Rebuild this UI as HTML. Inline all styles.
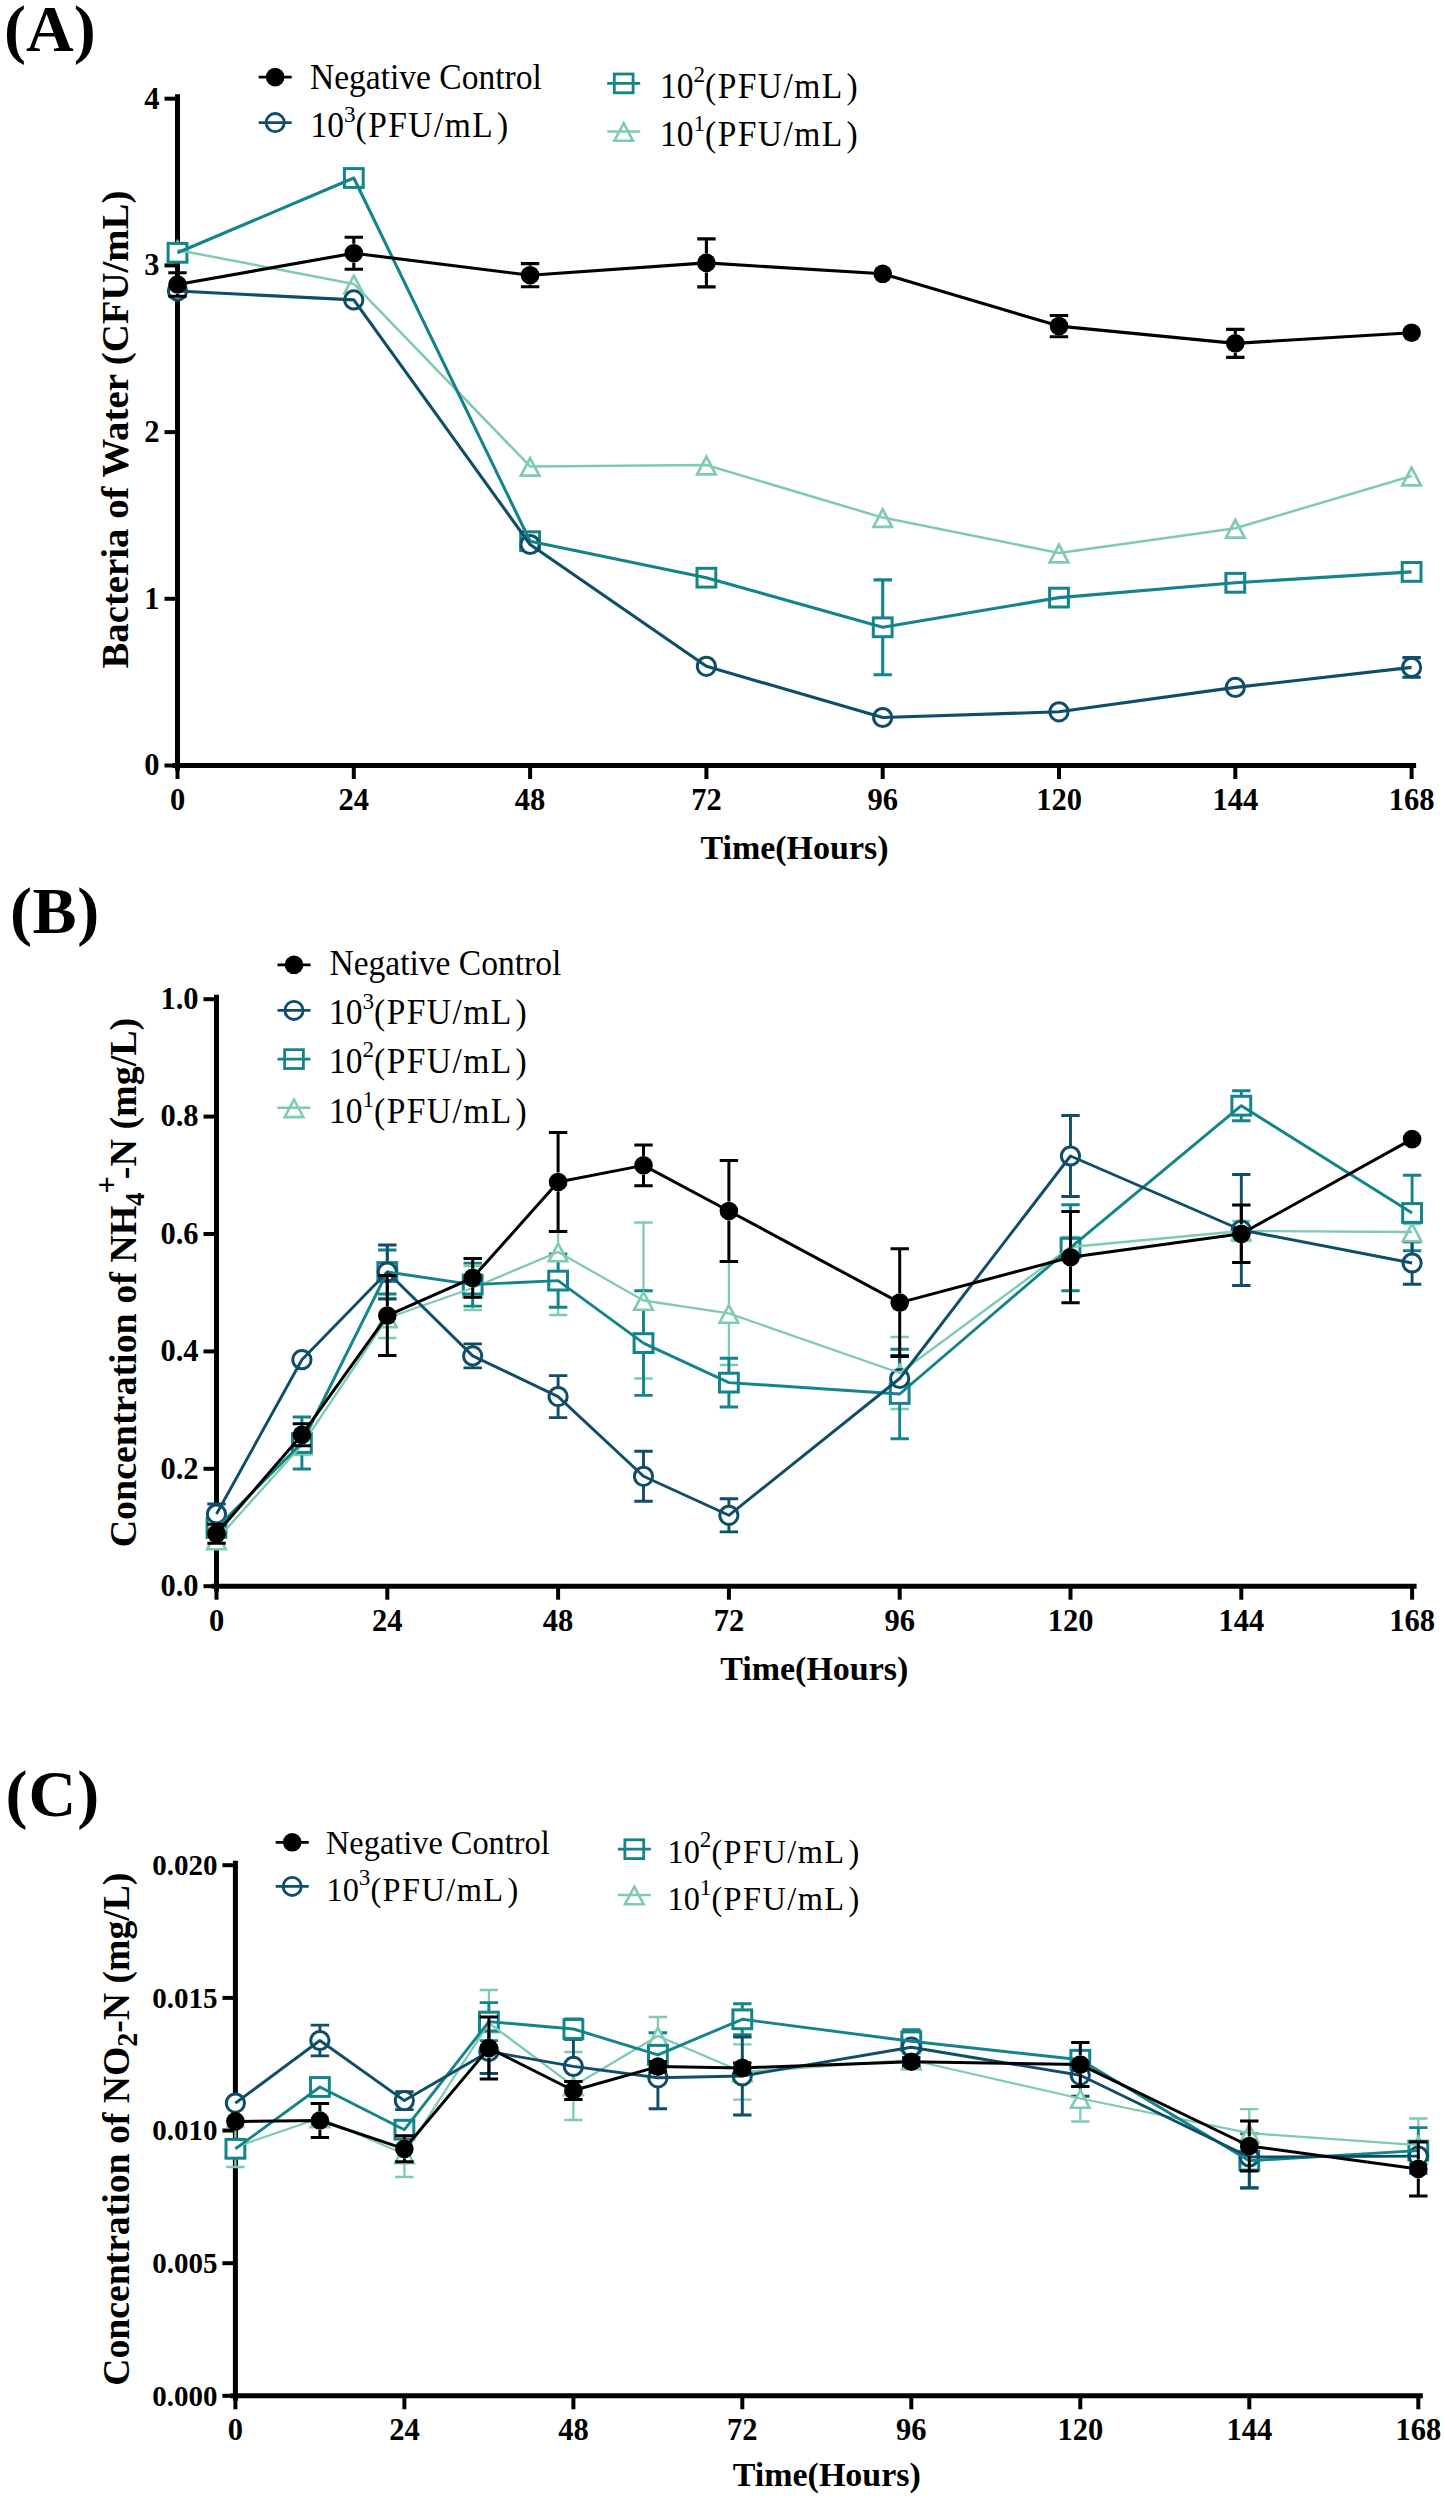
<!DOCTYPE html><html><head><meta charset="utf-8"><style>html,body{margin:0;padding:0;background:#fff;width:1445px;height:2500px;overflow:hidden}svg{display:block}.tk{font-family:'Liberation Serif', serif;font-weight:bold;font-size:30.5px}.lg{font-family:'Liberation Serif', serif;font-size:34.8px}.lgc{font-family:'Liberation Serif', serif;font-size:33.6px}.al{font-family:'Liberation Serif', serif;font-weight:bold;font-size:38.8px}.xl{font-family:'Liberation Serif', serif;font-weight:bold;font-size:34px}.pl{font-family:'Liberation Serif', serif;font-weight:bold;font-size:66px}</style></head><body>
<svg width="1445" height="2500" viewBox="0 0 1445 2500">
<text x="4" y="50.7" class="pl">(A)</text>
<path d="M177.5 96.7V768M175 765.5H1413.6" stroke="#000" stroke-width="5" fill="none" stroke-linecap="square"/>
<path d="M164.5 765.5H177.5" stroke="#000" stroke-width="4"/>
<text x="159.5" y="775.3" text-anchor="end" class="tk">0</text>
<path d="M164.5 598.8H177.5" stroke="#000" stroke-width="4"/>
<text x="159.5" y="608.6" text-anchor="end" class="tk">1</text>
<path d="M164.5 432.1H177.5" stroke="#000" stroke-width="4"/>
<text x="159.5" y="441.9" text-anchor="end" class="tk">2</text>
<path d="M164.5 265.4H177.5" stroke="#000" stroke-width="4"/>
<text x="159.5" y="275.2" text-anchor="end" class="tk">3</text>
<path d="M164.5 98.7H177.5" stroke="#000" stroke-width="4"/>
<text x="159.5" y="108.5" text-anchor="end" class="tk">4</text>
<path d="M177.5 765.5V779" stroke="#000" stroke-width="4"/>
<text x="177.5" y="809.5" text-anchor="middle" class="tk">0</text>
<path d="M353.8 765.5V779" stroke="#000" stroke-width="4"/>
<text x="353.8" y="809.5" text-anchor="middle" class="tk">24</text>
<path d="M530.1 765.5V779" stroke="#000" stroke-width="4"/>
<text x="530.1" y="809.5" text-anchor="middle" class="tk">48</text>
<path d="M706.4 765.5V779" stroke="#000" stroke-width="4"/>
<text x="706.4" y="809.5" text-anchor="middle" class="tk">72</text>
<path d="M882.7 765.5V779" stroke="#000" stroke-width="4"/>
<text x="882.7" y="809.5" text-anchor="middle" class="tk">96</text>
<path d="M1059 765.5V779" stroke="#000" stroke-width="4"/>
<text x="1059" y="809.5" text-anchor="middle" class="tk">120</text>
<path d="M1235.3 765.5V779" stroke="#000" stroke-width="4"/>
<text x="1235.3" y="809.5" text-anchor="middle" class="tk">144</text>
<path d="M1411.6 765.5V779" stroke="#000" stroke-width="4"/>
<text x="1411.6" y="809.5" text-anchor="middle" class="tk">168</text>
<text transform="translate(128,429.6) rotate(-90)" text-anchor="middle" class="al">Bacteria of Water (CFU/mL)</text>
<text x="794.5" y="858.9" text-anchor="middle" class="xl">Time(Hours)</text>

<path d="M882.7 579.9V617.8M882.7 636.8V674.7M873.5 579.9H891.9M873.5 674.7H891.9" stroke="#12848a" stroke-width="3.1" fill="none"/>
<path d="M1402.4 657.6H1420.8M1402.4 677.2H1420.8" stroke="#0f4e69" stroke-width="3.1" fill="none"/>
<path d="M177.5 241.7L186.8 259.3L168.2 259.3Z" fill="#fff" stroke="#7ecbb2" stroke-width="2.7" stroke-linejoin="miter"/>
<path d="M353.8 275.6L363.1 293.2L344.5 293.2Z" fill="#fff" stroke="#7ecbb2" stroke-width="2.7" stroke-linejoin="miter"/>
<path d="M530.1 458.1L539.4 475.7L520.8 475.7Z" fill="#fff" stroke="#7ecbb2" stroke-width="2.7" stroke-linejoin="miter"/>
<path d="M706.4 456.7L715.7 474.3L697.1 474.3Z" fill="#fff" stroke="#7ecbb2" stroke-width="2.7" stroke-linejoin="miter"/>
<path d="M882.7 509.3L892 526.9L873.4 526.9Z" fill="#fff" stroke="#7ecbb2" stroke-width="2.7" stroke-linejoin="miter"/>
<path d="M1059 544.7L1068.3 562.3L1049.7 562.3Z" fill="#fff" stroke="#7ecbb2" stroke-width="2.7" stroke-linejoin="miter"/>
<path d="M1235.3 520L1244.6 537.6L1226 537.6Z" fill="#fff" stroke="#7ecbb2" stroke-width="2.7" stroke-linejoin="miter"/>
<path d="M1411.6 467.7L1420.9 485.3L1402.3 485.3Z" fill="#fff" stroke="#7ecbb2" stroke-width="2.7" stroke-linejoin="miter"/>
<rect x="168.1" y="243.4" width="18.8" height="18.8" fill="#fff" stroke="#12848a" stroke-width="3"/>
<rect x="344.4" y="168.6" width="18.8" height="18.8" fill="#fff" stroke="#12848a" stroke-width="3"/>
<rect x="520.7" y="531.8" width="18.8" height="18.8" fill="#fff" stroke="#12848a" stroke-width="3"/>
<rect x="697" y="568.3" width="18.8" height="18.8" fill="#fff" stroke="#12848a" stroke-width="3"/>
<rect x="873.3" y="617.9" width="18.8" height="18.8" fill="#fff" stroke="#12848a" stroke-width="3"/>
<rect x="1049.6" y="588.2" width="18.8" height="18.8" fill="#fff" stroke="#12848a" stroke-width="3"/>
<rect x="1225.9" y="573.4" width="18.8" height="18.8" fill="#fff" stroke="#12848a" stroke-width="3"/>
<rect x="1402.2" y="562.5" width="18.8" height="18.8" fill="#fff" stroke="#12848a" stroke-width="3"/>
<circle cx="177.5" cy="291" r="9.1" fill="#fff" stroke="#0f4e69" stroke-width="3"/>
<circle cx="353.8" cy="299.9" r="9.1" fill="#fff" stroke="#0f4e69" stroke-width="3"/>
<circle cx="530.1" cy="544.5" r="9.1" fill="#fff" stroke="#0f4e69" stroke-width="3"/>
<circle cx="706.4" cy="666.3" r="9.1" fill="#fff" stroke="#0f4e69" stroke-width="3"/>
<circle cx="882.7" cy="717.5" r="9.1" fill="#fff" stroke="#0f4e69" stroke-width="3"/>
<circle cx="1059" cy="711.8" r="9.1" fill="#fff" stroke="#0f4e69" stroke-width="3"/>
<circle cx="1235.3" cy="687.4" r="9.1" fill="#fff" stroke="#0f4e69" stroke-width="3"/>
<circle cx="1411.6" cy="667.4" r="9.1" fill="#fff" stroke="#0f4e69" stroke-width="3"/>
<path d="M177.5 250 L353.8 283.9 L530.1 466.4 L706.4 465 L882.7 517.6 L1059 553 L1235.3 528.3 L1411.6 476" fill="none" stroke="#7ecbb2" stroke-width="2.5" stroke-linejoin="round"/>
<path d="M177.5 252.8 L353.8 178 L530.1 541.2 L706.4 577.7 L882.7 627.3 L1059 597.6 L1235.3 582.8 L1411.6 571.9" fill="none" stroke="#12848a" stroke-width="3.1" stroke-linejoin="round"/>
<path d="M177.5 291 L353.8 299.9 L530.1 544.5 L706.4 666.3 L882.7 717.5 L1059 711.8 L1235.3 687.4 L1411.6 667.4" fill="none" stroke="#0f4e69" stroke-width="3.1" stroke-linejoin="round"/>
<path d="M177.5 284.5 L353.8 253.2 L530.1 275.2 L706.4 262.9 L882.7 273.8 L1059 326.1 L1235.3 343.4 L1411.6 332.7" fill="none" stroke="#000000" stroke-width="3.1" stroke-linejoin="round"/>
<path d="M177.5 272.7V275M177.5 294V296.3M168.3 272.7H186.7M168.3 296.3H186.7" stroke="#000000" stroke-width="3.1" fill="none"/>
<path d="M353.8 237.2V243.7M353.8 262.7V269.2M344.6 237.2H363M344.6 269.2H363" stroke="#000000" stroke-width="3.1" fill="none"/>
<path d="M530.1 263.6V265.7M530.1 284.7V286.8M520.9 263.6H539.3M520.9 286.8H539.3" stroke="#000000" stroke-width="3.1" fill="none"/>
<path d="M706.4 238.9V253.4M706.4 272.4V286.9M697.2 238.9H715.6M697.2 286.9H715.6" stroke="#000000" stroke-width="3.1" fill="none"/>
<path d="M1059 315.5V316.6M1059 335.6V336.7M1049.8 315.5H1068.2M1049.8 336.7H1068.2" stroke="#000000" stroke-width="3.1" fill="none"/>
<path d="M1235.3 329.4V333.9M1235.3 352.9V357.4M1226.1 329.4H1244.5M1226.1 357.4H1244.5" stroke="#000000" stroke-width="3.1" fill="none"/>
<circle cx="177.5" cy="284.5" r="9.3" fill="#000000"/>
<circle cx="353.8" cy="253.2" r="9.3" fill="#000000"/>
<circle cx="530.1" cy="275.2" r="9.3" fill="#000000"/>
<circle cx="706.4" cy="262.9" r="9.3" fill="#000000"/>
<circle cx="882.7" cy="273.8" r="9.3" fill="#000000"/>
<circle cx="1059" cy="326.1" r="9.3" fill="#000000"/>
<circle cx="1235.3" cy="343.4" r="9.3" fill="#000000"/>
<circle cx="1411.6" cy="332.7" r="9.3" fill="#000000"/>
<path d="M258.7 77.1H291.7" stroke="#000000" stroke-width="2.8"/>
<circle cx="275.2" cy="77.1" r="9.3" fill="#000000"/>
<g transform="translate(310,88.7) scale(0.963,1)"><text x="0" y="0" class="lg">Negative Control</text></g>
<path d="M258.7 122.6H291.7" stroke="#0f4e69" stroke-width="2.8"/>
<circle cx="275.2" cy="122.6" r="9.1" fill="none" stroke="#0f4e69" stroke-width="2.8"/>
<g transform="translate(310.5,137) scale(0.963,1)"><text x="0" y="0" class="lg">10<tspan dy="-15.5" font-size="24">3</tspan><tspan dy="15.5" letter-spacing="1.5">(PFU/mL</tspan><tspan dx="3">)</tspan></text></g>
<path d="M607.2 83.4H640.2" stroke="#12848a" stroke-width="2.8"/>
<rect x="614.3" y="74" width="18.8" height="18.8" fill="none" stroke="#12848a" stroke-width="2.8"/>
<g transform="translate(660,97.8) scale(0.963,1)"><text x="0" y="0" class="lg">10<tspan dy="-15.5" font-size="24">2</tspan><tspan dy="15.5" letter-spacing="1.5">(PFU/mL</tspan><tspan dx="3">)</tspan></text></g>
<path d="M607.2 131.5H640.2" stroke="#7ecbb2" stroke-width="2.6"/>
<path d="M623.7 123.2L633 140.8L614.4 140.8Z" fill="none" stroke="#7ecbb2" stroke-width="2.6" stroke-linejoin="miter"/>
<g transform="translate(660,146.2) scale(0.963,1)"><text x="0" y="0" class="lg">10<tspan dy="-15.5" font-size="24">1</tspan><tspan dy="15.5" letter-spacing="1.5">(PFU/mL</tspan><tspan dx="3">)</tspan></text></g>
<text x="10" y="933.1" class="pl" letter-spacing="0.6">(B)</text>
<path d="M216.5 997.2V1588.7M214 1586.2H1414.1" stroke="#000" stroke-width="5" fill="none" stroke-linecap="square"/>
<path d="M203.5 1586.2H216.5" stroke="#000" stroke-width="4"/>
<text x="198.5" y="1596" text-anchor="end" class="tk">0.0</text>
<path d="M203.5 1468.8H216.5" stroke="#000" stroke-width="4"/>
<text x="198.5" y="1478.6" text-anchor="end" class="tk">0.2</text>
<path d="M203.5 1351.4H216.5" stroke="#000" stroke-width="4"/>
<text x="198.5" y="1361.2" text-anchor="end" class="tk">0.4</text>
<path d="M203.5 1234H216.5" stroke="#000" stroke-width="4"/>
<text x="198.5" y="1243.8" text-anchor="end" class="tk">0.6</text>
<path d="M203.5 1116.6H216.5" stroke="#000" stroke-width="4"/>
<text x="198.5" y="1126.4" text-anchor="end" class="tk">0.8</text>
<path d="M203.5 999.2H216.5" stroke="#000" stroke-width="4"/>
<text x="198.5" y="1009" text-anchor="end" class="tk">1.0</text>
<path d="M216.5 1586.2V1599.7" stroke="#000" stroke-width="4"/>
<text x="216.5" y="1631.2" text-anchor="middle" class="tk">0</text>
<path d="M387.3 1586.2V1599.7" stroke="#000" stroke-width="4"/>
<text x="387.3" y="1631.2" text-anchor="middle" class="tk">24</text>
<path d="M558.1 1586.2V1599.7" stroke="#000" stroke-width="4"/>
<text x="558.1" y="1631.2" text-anchor="middle" class="tk">48</text>
<path d="M728.9 1586.2V1599.7" stroke="#000" stroke-width="4"/>
<text x="728.9" y="1631.2" text-anchor="middle" class="tk">72</text>
<path d="M899.7 1586.2V1599.7" stroke="#000" stroke-width="4"/>
<text x="899.7" y="1631.2" text-anchor="middle" class="tk">96</text>
<path d="M1070.5 1586.2V1599.7" stroke="#000" stroke-width="4"/>
<text x="1070.5" y="1631.2" text-anchor="middle" class="tk">120</text>
<path d="M1241.3 1586.2V1599.7" stroke="#000" stroke-width="4"/>
<text x="1241.3" y="1631.2" text-anchor="middle" class="tk">144</text>
<path d="M1412.1 1586.2V1599.7" stroke="#000" stroke-width="4"/>
<text x="1412.1" y="1631.2" text-anchor="middle" class="tk">168</text>
<g transform="translate(136,1282.6) rotate(-90) scale(0.979,1)"><text x="0" y="0" text-anchor="middle" class="al">Concentration of NH<tspan font-size="27" dy="8">4</tspan><tspan font-size="31" dy="-27.5" dx="-1">+</tspan><tspan dy="19.5" dx="-3">-N (mg/L)</tspan></text></g>
<text x="814.3" y="1679.7" text-anchor="middle" class="xl">Time(Hours)</text>
<path d="M207.3 1532H225.7M207.3 1548H225.7" stroke="#7ecbb2" stroke-width="2.3" fill="none"/>
<path d="M292.7 1435H311.1M292.7 1455H311.1" stroke="#7ecbb2" stroke-width="2.3" fill="none"/>
<path d="M387.3 1298V1308.5M387.3 1327.5V1338M378.1 1298H396.5M378.1 1338H396.5" stroke="#7ecbb2" stroke-width="2.3" fill="none"/>
<path d="M472.7 1266V1278.5M472.7 1297.5V1310M463.5 1266H481.9M463.5 1310H481.9" stroke="#7ecbb2" stroke-width="2.3" fill="none"/>
<path d="M558.1 1185V1242.5M558.1 1261.5V1315M548.9 1185H567.3M548.9 1315H567.3" stroke="#7ecbb2" stroke-width="2.3" fill="none"/>
<path d="M643.5 1222.5V1291M643.5 1310V1378.5M634.3 1222.5H652.7M634.3 1378.5H652.7" stroke="#7ecbb2" stroke-width="2.3" fill="none"/>
<path d="M728.9 1261.8V1303.9M728.9 1322.9V1365M719.7 1261.8H738.1M719.7 1365H738.1" stroke="#7ecbb2" stroke-width="2.3" fill="none"/>
<path d="M899.7 1337V1363.5M899.7 1382.5V1409M890.5 1337H908.9M890.5 1409H908.9" stroke="#7ecbb2" stroke-width="2.3" fill="none"/>
<path d="M1061.3 1237H1079.7M1061.3 1257H1079.7" stroke="#7ecbb2" stroke-width="2.3" fill="none"/>
<path d="M1232.1 1221H1250.5M1232.1 1241H1250.5" stroke="#7ecbb2" stroke-width="2.3" fill="none"/>
<path d="M1402.9 1224H1421.3M1402.9 1240H1421.3" stroke="#7ecbb2" stroke-width="2.3" fill="none"/>
<path d="M207.3 1520H225.7M207.3 1536H225.7" stroke="#12848a" stroke-width="2.9" fill="none"/>
<path d="M301.9 1417V1433.5M301.9 1452.5V1469M292.7 1417H311.1M292.7 1469H311.1" stroke="#12848a" stroke-width="2.9" fill="none"/>
<path d="M387.3 1250V1262.5M387.3 1281.5V1294M378.1 1250H396.5M378.1 1294H396.5" stroke="#12848a" stroke-width="2.9" fill="none"/>
<path d="M472.7 1263.1V1275.1M472.7 1294.1V1306.1M463.5 1263.1H481.9M463.5 1306.1H481.9" stroke="#12848a" stroke-width="2.9" fill="none"/>
<path d="M558.1 1254V1271.1M558.1 1290.1V1307.2M548.9 1254H567.3M548.9 1307.2H567.3" stroke="#12848a" stroke-width="2.9" fill="none"/>
<path d="M643.5 1290.8V1333.6M643.5 1352.6V1395.4M634.3 1290.8H652.7M634.3 1395.4H652.7" stroke="#12848a" stroke-width="2.9" fill="none"/>
<path d="M728.9 1358.2V1373.1M728.9 1392.1V1407M719.7 1358.2H738.1M719.7 1407H738.1" stroke="#12848a" stroke-width="2.9" fill="none"/>
<path d="M899.7 1349.3V1384.5M899.7 1403.5V1438.7M890.5 1349.3H908.9M890.5 1438.7H908.9" stroke="#12848a" stroke-width="2.9" fill="none"/>
<path d="M1070.5 1204.7V1238.2M1070.5 1257.2V1290.7M1061.3 1204.7H1079.7M1061.3 1290.7H1079.7" stroke="#12848a" stroke-width="2.9" fill="none"/>
<path d="M1241.3 1090.7V1096.2M1241.3 1115.2V1120.7M1232.1 1090.7H1250.5M1232.1 1120.7H1250.5" stroke="#12848a" stroke-width="2.9" fill="none"/>
<path d="M1412.1 1175.2V1203.5M1412.1 1222.5V1250.8M1402.9 1175.2H1421.3M1402.9 1250.8H1421.3" stroke="#12848a" stroke-width="2.9" fill="none"/>
<path d="M207.3 1504H225.7M207.3 1524H225.7" stroke="#0f4e69" stroke-width="2.9" fill="none"/>
<path d="M387.3 1245V1262.5M387.3 1281.5V1299M378.1 1245H396.5M378.1 1299H396.5" stroke="#0f4e69" stroke-width="2.9" fill="none"/>
<path d="M472.7 1343.9V1346.4M472.7 1365.4V1367.9M463.5 1343.9H481.9M463.5 1367.9H481.9" stroke="#0f4e69" stroke-width="2.9" fill="none"/>
<path d="M558.1 1375.6V1387.1M558.1 1406.1V1417.6M548.9 1375.6H567.3M548.9 1417.6H567.3" stroke="#0f4e69" stroke-width="2.9" fill="none"/>
<path d="M643.5 1451.3V1466.8M643.5 1485.8V1501.3M634.3 1451.3H652.7M634.3 1501.3H652.7" stroke="#0f4e69" stroke-width="2.9" fill="none"/>
<path d="M728.9 1498.7V1505.8M728.9 1524.8V1531.9M719.7 1498.7H738.1M719.7 1531.9H738.1" stroke="#0f4e69" stroke-width="2.9" fill="none"/>
<path d="M899.7 1355.5V1369M899.7 1388V1401.5M890.5 1355.5H908.9M890.5 1401.5H908.9" stroke="#0f4e69" stroke-width="2.9" fill="none"/>
<path d="M1070.5 1115.5V1146.5M1070.5 1165.5V1196.5M1061.3 1115.5H1079.7M1061.3 1196.5H1079.7" stroke="#0f4e69" stroke-width="2.9" fill="none"/>
<path d="M1241.3 1174.5V1220.5M1241.3 1239.5V1285.5M1232.1 1174.5H1250.5M1232.1 1285.5H1250.5" stroke="#0f4e69" stroke-width="2.9" fill="none"/>
<path d="M1412.1 1241.7V1253.5M1412.1 1272.5V1284.3M1402.9 1241.7H1421.3M1402.9 1284.3H1421.3" stroke="#0f4e69" stroke-width="2.9" fill="none"/>
<path d="M216.5 1531.7L225.8 1549.3L207.2 1549.3Z" fill="#fff" stroke="#7ecbb2" stroke-width="2.6" stroke-linejoin="miter"/>
<path d="M301.9 1436.7L311.2 1454.3L292.6 1454.3Z" fill="#fff" stroke="#7ecbb2" stroke-width="2.6" stroke-linejoin="miter"/>
<path d="M387.3 1309.7L396.6 1327.3L378 1327.3Z" fill="#fff" stroke="#7ecbb2" stroke-width="2.6" stroke-linejoin="miter"/>
<path d="M472.7 1279.7L482 1297.3L463.4 1297.3Z" fill="#fff" stroke="#7ecbb2" stroke-width="2.6" stroke-linejoin="miter"/>
<path d="M558.1 1243.7L567.4 1261.3L548.8 1261.3Z" fill="#fff" stroke="#7ecbb2" stroke-width="2.6" stroke-linejoin="miter"/>
<path d="M643.5 1292.2L652.8 1309.8L634.2 1309.8Z" fill="#fff" stroke="#7ecbb2" stroke-width="2.6" stroke-linejoin="miter"/>
<path d="M728.9 1305.1L738.2 1322.7L719.6 1322.7Z" fill="#fff" stroke="#7ecbb2" stroke-width="2.6" stroke-linejoin="miter"/>
<path d="M899.7 1364.7L909 1382.3L890.4 1382.3Z" fill="#fff" stroke="#7ecbb2" stroke-width="2.6" stroke-linejoin="miter"/>
<path d="M1070.5 1238.7L1079.8 1256.3L1061.2 1256.3Z" fill="#fff" stroke="#7ecbb2" stroke-width="2.6" stroke-linejoin="miter"/>
<path d="M1241.3 1222.7L1250.6 1240.3L1232 1240.3Z" fill="#fff" stroke="#7ecbb2" stroke-width="2.6" stroke-linejoin="miter"/>
<path d="M1412.1 1223.7L1421.4 1241.3L1402.8 1241.3Z" fill="#fff" stroke="#7ecbb2" stroke-width="2.6" stroke-linejoin="miter"/>
<rect x="207.1" y="1518.6" width="18.8" height="18.8" fill="#fff" stroke="#12848a" stroke-width="3"/>
<rect x="292.5" y="1433.6" width="18.8" height="18.8" fill="#fff" stroke="#12848a" stroke-width="3"/>
<rect x="377.9" y="1262.6" width="18.8" height="18.8" fill="#fff" stroke="#12848a" stroke-width="3"/>
<rect x="463.3" y="1275.2" width="18.8" height="18.8" fill="#fff" stroke="#12848a" stroke-width="3"/>
<rect x="548.7" y="1271.2" width="18.8" height="18.8" fill="#fff" stroke="#12848a" stroke-width="3"/>
<rect x="634.1" y="1333.7" width="18.8" height="18.8" fill="#fff" stroke="#12848a" stroke-width="3"/>
<rect x="719.5" y="1373.2" width="18.8" height="18.8" fill="#fff" stroke="#12848a" stroke-width="3"/>
<rect x="890.3" y="1384.6" width="18.8" height="18.8" fill="#fff" stroke="#12848a" stroke-width="3"/>
<rect x="1061.1" y="1238.3" width="18.8" height="18.8" fill="#fff" stroke="#12848a" stroke-width="3"/>
<rect x="1231.9" y="1096.3" width="18.8" height="18.8" fill="#fff" stroke="#12848a" stroke-width="3"/>
<rect x="1402.7" y="1203.6" width="18.8" height="18.8" fill="#fff" stroke="#12848a" stroke-width="3"/>
<circle cx="216.5" cy="1514" r="9.1" fill="#fff" stroke="#0f4e69" stroke-width="3"/>
<circle cx="301.9" cy="1359.7" r="9.1" fill="#fff" stroke="#0f4e69" stroke-width="3"/>
<circle cx="387.3" cy="1272" r="9.1" fill="#fff" stroke="#0f4e69" stroke-width="3"/>
<circle cx="472.7" cy="1355.9" r="9.1" fill="#fff" stroke="#0f4e69" stroke-width="3"/>
<circle cx="558.1" cy="1396.6" r="9.1" fill="#fff" stroke="#0f4e69" stroke-width="3"/>
<circle cx="643.5" cy="1476.3" r="9.1" fill="#fff" stroke="#0f4e69" stroke-width="3"/>
<circle cx="728.9" cy="1515.3" r="9.1" fill="#fff" stroke="#0f4e69" stroke-width="3"/>
<circle cx="899.7" cy="1378.5" r="9.1" fill="#fff" stroke="#0f4e69" stroke-width="3"/>
<circle cx="1070.5" cy="1156" r="9.1" fill="#fff" stroke="#0f4e69" stroke-width="3"/>
<circle cx="1241.3" cy="1230" r="9.1" fill="#fff" stroke="#0f4e69" stroke-width="3"/>
<circle cx="1412.1" cy="1263" r="9.1" fill="#fff" stroke="#0f4e69" stroke-width="3"/>
<path d="M216.5 1540 L301.9 1445 L387.3 1318 L472.7 1288 L558.1 1252 L643.5 1300.5 L728.9 1313.4 L899.7 1373 L1070.5 1247 L1241.3 1231 L1412.1 1232" fill="none" stroke="#7ecbb2" stroke-width="2.3" stroke-linejoin="round"/>
<path d="M216.5 1528 L301.9 1443 L387.3 1272 L472.7 1284.6 L558.1 1280.6 L643.5 1343.1 L728.9 1382.6 L899.7 1394 L1070.5 1247.7 L1241.3 1105.7 L1412.1 1213" fill="none" stroke="#12848a" stroke-width="2.9" stroke-linejoin="round"/>
<path d="M216.5 1514 L301.9 1359.7 L387.3 1272 L472.7 1355.9 L558.1 1396.6 L643.5 1476.3 L728.9 1515.3 L899.7 1378.5 L1070.5 1156 L1241.3 1230 L1412.1 1263" fill="none" stroke="#0f4e69" stroke-width="2.9" stroke-linejoin="round"/>
<path d="M216.5 1533.7 L301.9 1434.8 L387.3 1315.6 L472.7 1277.8 L558.1 1182 L643.5 1165.4 L728.9 1211 L899.7 1302.6 L1070.5 1257.2 L1241.3 1233.8 L1412.1 1139.1" fill="none" stroke="#000000" stroke-width="3" stroke-linejoin="round"/>
<path d="M207.3 1524.2H225.7M207.3 1543.2H225.7" stroke="#000000" stroke-width="3" fill="none"/>
<path d="M301.9 1423.8V1425.3M301.9 1444.3V1445.8M292.7 1423.8H311.1M292.7 1445.8H311.1" stroke="#000000" stroke-width="3" fill="none"/>
<path d="M387.3 1275.6V1306.1M387.3 1325.1V1355.6M378.1 1275.6H396.5M378.1 1355.6H396.5" stroke="#000000" stroke-width="3" fill="none"/>
<path d="M472.7 1258.4V1268.3M472.7 1287.3V1297.2M463.5 1258.4H481.9M463.5 1297.2H481.9" stroke="#000000" stroke-width="3" fill="none"/>
<path d="M558.1 1132.5V1172.5M558.1 1191.5V1231.5M548.9 1132.5H567.3M548.9 1231.5H567.3" stroke="#000000" stroke-width="3" fill="none"/>
<path d="M643.5 1145.1V1155.9M643.5 1174.9V1185.7M634.3 1145.1H652.7M634.3 1185.7H652.7" stroke="#000000" stroke-width="3" fill="none"/>
<path d="M728.9 1160.4V1201.5M728.9 1220.5V1261.6M719.7 1160.4H738.1M719.7 1261.6H738.1" stroke="#000000" stroke-width="3" fill="none"/>
<path d="M899.7 1248.8V1293.1M899.7 1312.1V1356.4M890.5 1248.8H908.9M890.5 1356.4H908.9" stroke="#000000" stroke-width="3" fill="none"/>
<path d="M1070.5 1211.6V1247.7M1070.5 1266.7V1302.8M1061.3 1211.6H1079.7M1061.3 1302.8H1079.7" stroke="#000000" stroke-width="3" fill="none"/>
<path d="M1241.3 1205V1224.3M1241.3 1243.3V1262.6M1232.1 1205H1250.5M1232.1 1262.6H1250.5" stroke="#000000" stroke-width="3" fill="none"/>
<circle cx="216.5" cy="1533.7" r="9.3" fill="#000000"/>
<circle cx="301.9" cy="1434.8" r="9.3" fill="#000000"/>
<circle cx="387.3" cy="1315.6" r="9.3" fill="#000000"/>
<circle cx="472.7" cy="1277.8" r="9.3" fill="#000000"/>
<circle cx="558.1" cy="1182" r="9.3" fill="#000000"/>
<circle cx="643.5" cy="1165.4" r="9.3" fill="#000000"/>
<circle cx="728.9" cy="1211" r="9.3" fill="#000000"/>
<circle cx="899.7" cy="1302.6" r="9.3" fill="#000000"/>
<circle cx="1070.5" cy="1257.2" r="9.3" fill="#000000"/>
<circle cx="1241.3" cy="1233.8" r="9.3" fill="#000000"/>
<circle cx="1412.1" cy="1139.1" r="9.3" fill="#000000"/>
<path d="M277.5 964.8H310.5" stroke="#000000" stroke-width="2.8"/>
<circle cx="294" cy="964.8" r="9.3" fill="#000000"/>
<g transform="translate(329.5,975.4) scale(0.963,1)"><text x="0" y="0" class="lg">Negative Control</text></g>
<path d="M277.5 1010.4H310.5" stroke="#0f4e69" stroke-width="2.8"/>
<circle cx="294" cy="1010.4" r="9.1" fill="none" stroke="#0f4e69" stroke-width="2.8"/>
<g transform="translate(329,1024.1) scale(0.963,1)"><text x="0" y="0" class="lg">10<tspan dy="-15.5" font-size="24">3</tspan><tspan dy="15.5" letter-spacing="1.5">(PFU/mL</tspan><tspan dx="3">)</tspan></text></g>
<path d="M277.5 1059.1H310.5" stroke="#12848a" stroke-width="2.8"/>
<rect x="284.6" y="1049.7" width="18.8" height="18.8" fill="none" stroke="#12848a" stroke-width="2.8"/>
<g transform="translate(329,1072.9) scale(0.963,1)"><text x="0" y="0" class="lg">10<tspan dy="-15.5" font-size="24">2</tspan><tspan dy="15.5" letter-spacing="1.5">(PFU/mL</tspan><tspan dx="3">)</tspan></text></g>
<path d="M277.5 1107.8H310.5" stroke="#7ecbb2" stroke-width="2.6"/>
<path d="M294 1099.5L303.3 1117.1L284.7 1117.1Z" fill="none" stroke="#7ecbb2" stroke-width="2.6" stroke-linejoin="miter"/>
<g transform="translate(329,1122.7) scale(0.963,1)"><text x="0" y="0" class="lg">10<tspan dy="-15.5" font-size="24">1</tspan><tspan dy="15.5" letter-spacing="1.5">(PFU/mL</tspan><tspan dx="3">)</tspan></text></g>
<text x="5.5" y="1816" class="pl" letter-spacing="1">(C)</text>
<path d="M235.4 1863.2V2398.3M232.9 2395.8H1420.3" stroke="#000" stroke-width="5" fill="none" stroke-linecap="square"/>
<path d="M222.4 2395.8H235.4" stroke="#000" stroke-width="4"/>
<text x="217.4" y="2405.6" text-anchor="end" class="tk" style="font-size:29px">0.000</text>
<path d="M222.4 2263.2H235.4" stroke="#000" stroke-width="4"/>
<text x="217.4" y="2273" text-anchor="end" class="tk" style="font-size:29px">0.005</text>
<path d="M222.4 2130.5H235.4" stroke="#000" stroke-width="4"/>
<text x="217.4" y="2140.3" text-anchor="end" class="tk" style="font-size:29px">0.010</text>
<path d="M222.4 1997.9H235.4" stroke="#000" stroke-width="4"/>
<text x="217.4" y="2007.7" text-anchor="end" class="tk" style="font-size:29px">0.015</text>
<path d="M222.4 1865.2H235.4" stroke="#000" stroke-width="4"/>
<text x="217.4" y="1875" text-anchor="end" class="tk" style="font-size:29px">0.020</text>
<path d="M235.4 2395.8V2409.3" stroke="#000" stroke-width="4"/>
<text x="235.4" y="2439.8" text-anchor="middle" class="tk">0</text>
<path d="M404.4 2395.8V2409.3" stroke="#000" stroke-width="4"/>
<text x="404.4" y="2439.8" text-anchor="middle" class="tk">24</text>
<path d="M573.4 2395.8V2409.3" stroke="#000" stroke-width="4"/>
<text x="573.4" y="2439.8" text-anchor="middle" class="tk">48</text>
<path d="M742.3 2395.8V2409.3" stroke="#000" stroke-width="4"/>
<text x="742.3" y="2439.8" text-anchor="middle" class="tk">72</text>
<path d="M911.3 2395.8V2409.3" stroke="#000" stroke-width="4"/>
<text x="911.3" y="2439.8" text-anchor="middle" class="tk">96</text>
<path d="M1080.3 2395.8V2409.3" stroke="#000" stroke-width="4"/>
<text x="1080.3" y="2439.8" text-anchor="middle" class="tk">120</text>
<path d="M1249.3 2395.8V2409.3" stroke="#000" stroke-width="4"/>
<text x="1249.3" y="2439.8" text-anchor="middle" class="tk">144</text>
<path d="M1418.3 2395.8V2409.3" stroke="#000" stroke-width="4"/>
<text x="1418.3" y="2439.8" text-anchor="middle" class="tk">168</text>
<g transform="translate(128.6,2129.2) rotate(-90) scale(0.971,1)"><text x="0" y="0" text-anchor="middle" class="al">Concentration of NO<tspan font-size="29" dy="8">2</tspan><tspan dy="-8">-N (mg/L)</tspan></text></g>
<text x="826.8" y="2486.4" text-anchor="middle" class="xl">Time(Hours)</text>
<path d="M235.4 2127V2137.5M235.4 2156.5V2167M226.2 2127H244.6M226.2 2167H244.6" stroke="#7ecbb2" stroke-width="2.3" fill="none"/>
<path d="M404.4 2131V2144.5M404.4 2163.5V2177M395.2 2131H413.6M395.2 2177H413.6" stroke="#7ecbb2" stroke-width="2.3" fill="none"/>
<path d="M488.9 1990V2013.5M488.9 2032.5V2056M479.7 1990H498.1M479.7 2056H498.1" stroke="#7ecbb2" stroke-width="2.3" fill="none"/>
<path d="M573.4 2052V2076.5M573.4 2095.5V2120M564.2 2052H582.6M564.2 2120H582.6" stroke="#7ecbb2" stroke-width="2.3" fill="none"/>
<path d="M657.9 2017V2026.5M657.9 2045.5V2055M648.6 2017H667.1M648.6 2055H667.1" stroke="#7ecbb2" stroke-width="2.3" fill="none"/>
<path d="M742.3 2044.3V2062.5M742.3 2081.5V2099.7M733.1 2044.3H751.5M733.1 2099.7H751.5" stroke="#7ecbb2" stroke-width="2.3" fill="none"/>
<path d="M902.1 2054H920.5M902.1 2066H920.5" stroke="#7ecbb2" stroke-width="2.3" fill="none"/>
<path d="M1080.3 2075.5V2089M1080.3 2108V2121.5M1071.1 2075.5H1089.5M1071.1 2121.5H1089.5" stroke="#7ecbb2" stroke-width="2.3" fill="none"/>
<path d="M1249.3 2109.2V2123.7M1249.3 2142.7V2157.2M1240.1 2109.2H1258.5M1240.1 2157.2H1258.5" stroke="#7ecbb2" stroke-width="2.3" fill="none"/>
<path d="M1418.3 2118.5V2135.6M1418.3 2154.6V2171.7M1409.1 2118.5H1427.5M1409.1 2171.7H1427.5" stroke="#7ecbb2" stroke-width="2.3" fill="none"/>
<path d="M226.2 2140.8H244.6M226.2 2156.8H244.6" stroke="#12848a" stroke-width="2.9" fill="none"/>
<path d="M395.2 2121.7H413.6M395.2 2137.7H413.6" stroke="#12848a" stroke-width="2.9" fill="none"/>
<path d="M488.9 2002.6V2012.1M488.9 2031.1V2040.6M479.7 2002.6H498.1M479.7 2040.6H498.1" stroke="#12848a" stroke-width="2.9" fill="none"/>
<path d="M564.2 2019H582.6M564.2 2039H582.6" stroke="#12848a" stroke-width="2.9" fill="none"/>
<path d="M657.9 2032.8V2045.3M657.9 2064.3V2076.8M648.6 2032.8H667.1M648.6 2076.8H667.1" stroke="#12848a" stroke-width="2.9" fill="none"/>
<path d="M742.3 2003.8V2009.8M742.3 2028.8V2034.8M733.1 2003.8H751.5M733.1 2034.8H751.5" stroke="#12848a" stroke-width="2.9" fill="none"/>
<path d="M911.3 2029.7V2031.8M911.3 2050.8V2052.9M902.1 2029.7H920.5M902.1 2052.9H920.5" stroke="#12848a" stroke-width="2.9" fill="none"/>
<path d="M1071.1 2053.8H1089.5M1071.1 2065.8H1089.5" stroke="#12848a" stroke-width="2.9" fill="none"/>
<path d="M1249.3 2133.7V2151.2M1249.3 2170.2V2187.7M1240.1 2133.7H1258.5M1240.1 2187.7H1258.5" stroke="#12848a" stroke-width="2.9" fill="none"/>
<path d="M1418.3 2127.6V2141.1M1418.3 2160.1V2173.6M1409.1 2127.6H1427.5M1409.1 2173.6H1427.5" stroke="#12848a" stroke-width="2.9" fill="none"/>
<path d="M319.9 2025.1V2031M319.9 2050V2055.9M310.7 2025.1H329.1M310.7 2055.9H329.1" stroke="#0f4e69" stroke-width="2.9" fill="none"/>
<path d="M395.2 2091.6H413.6M395.2 2109.6H413.6" stroke="#0f4e69" stroke-width="2.9" fill="none"/>
<path d="M488.9 2029.5V2042M488.9 2061V2073.5M479.7 2029.5H498.1M479.7 2073.5H498.1" stroke="#0f4e69" stroke-width="2.9" fill="none"/>
<path d="M573.4 2039.4V2056.9M573.4 2075.9V2093.4M564.2 2039.4H582.6M564.2 2093.4H582.6" stroke="#0f4e69" stroke-width="2.9" fill="none"/>
<path d="M657.9 2046.8V2068.3M657.9 2087.3V2108.8M648.6 2046.8H667.1M648.6 2108.8H667.1" stroke="#0f4e69" stroke-width="2.9" fill="none"/>
<path d="M742.3 2037V2066.5M742.3 2085.5V2115M733.1 2037H751.5M733.1 2115H751.5" stroke="#0f4e69" stroke-width="2.9" fill="none"/>
<path d="M902.1 2043.2H920.5M902.1 2051.2H920.5" stroke="#0f4e69" stroke-width="2.9" fill="none"/>
<path d="M1080.3 2054.3V2065.8M1080.3 2084.8V2096.3M1071.1 2054.3H1089.5M1071.1 2096.3H1089.5" stroke="#0f4e69" stroke-width="2.9" fill="none"/>
<path d="M1249.3 2166.5V2188M1240.1 2147H1258.5M1240.1 2188H1258.5" stroke="#0f4e69" stroke-width="2.9" fill="none"/>
<path d="M1409.1 2148.1H1427.5M1409.1 2164.1H1427.5" stroke="#0f4e69" stroke-width="2.9" fill="none"/>
<path d="M235.4 2138.7L244.7 2156.3L226.1 2156.3Z" fill="#fff" stroke="#7ecbb2" stroke-width="2.6" stroke-linejoin="miter"/>
<path d="M319.9 2109.7L329.2 2127.3L310.6 2127.3Z" fill="#fff" stroke="#7ecbb2" stroke-width="2.6" stroke-linejoin="miter"/>
<path d="M404.4 2145.7L413.7 2163.3L395.1 2163.3Z" fill="#fff" stroke="#7ecbb2" stroke-width="2.6" stroke-linejoin="miter"/>
<path d="M488.9 2014.7L498.2 2032.3L479.6 2032.3Z" fill="#fff" stroke="#7ecbb2" stroke-width="2.6" stroke-linejoin="miter"/>
<path d="M573.4 2077.7L582.7 2095.3L564.1 2095.3Z" fill="#fff" stroke="#7ecbb2" stroke-width="2.6" stroke-linejoin="miter"/>
<path d="M657.9 2027.7L667.1 2045.3L648.6 2045.3Z" fill="#fff" stroke="#7ecbb2" stroke-width="2.6" stroke-linejoin="miter"/>
<path d="M742.3 2063.7L751.6 2081.3L733 2081.3Z" fill="#fff" stroke="#7ecbb2" stroke-width="2.6" stroke-linejoin="miter"/>
<path d="M911.3 2051.7L920.6 2069.3L902 2069.3Z" fill="#fff" stroke="#7ecbb2" stroke-width="2.6" stroke-linejoin="miter"/>
<path d="M1080.3 2090.2L1089.6 2107.8L1071 2107.8Z" fill="#fff" stroke="#7ecbb2" stroke-width="2.6" stroke-linejoin="miter"/>
<path d="M1249.3 2124.9L1258.6 2142.5L1240 2142.5Z" fill="#fff" stroke="#7ecbb2" stroke-width="2.6" stroke-linejoin="miter"/>
<path d="M1418.3 2136.8L1427.6 2154.4L1409 2154.4Z" fill="#fff" stroke="#7ecbb2" stroke-width="2.6" stroke-linejoin="miter"/>
<rect x="226" y="2139.4" width="18.8" height="18.8" fill="#fff" stroke="#12848a" stroke-width="3"/>
<rect x="310.5" y="2077.6" width="18.8" height="18.8" fill="#fff" stroke="#12848a" stroke-width="3"/>
<rect x="395" y="2120.3" width="18.8" height="18.8" fill="#fff" stroke="#12848a" stroke-width="3"/>
<rect x="479.5" y="2012.2" width="18.8" height="18.8" fill="#fff" stroke="#12848a" stroke-width="3"/>
<rect x="564" y="2019.6" width="18.8" height="18.8" fill="#fff" stroke="#12848a" stroke-width="3"/>
<rect x="648.5" y="2045.4" width="18.8" height="18.8" fill="#fff" stroke="#12848a" stroke-width="3"/>
<rect x="732.9" y="2009.9" width="18.8" height="18.8" fill="#fff" stroke="#12848a" stroke-width="3"/>
<rect x="901.9" y="2031.9" width="18.8" height="18.8" fill="#fff" stroke="#12848a" stroke-width="3"/>
<rect x="1070.9" y="2050.4" width="18.8" height="18.8" fill="#fff" stroke="#12848a" stroke-width="3"/>
<rect x="1239.9" y="2151.3" width="18.8" height="18.8" fill="#fff" stroke="#12848a" stroke-width="3"/>
<rect x="1408.9" y="2141.2" width="18.8" height="18.8" fill="#fff" stroke="#12848a" stroke-width="3"/>
<circle cx="235.4" cy="2103.1" r="9.1" fill="#fff" stroke="#0f4e69" stroke-width="3"/>
<circle cx="319.9" cy="2040.5" r="9.1" fill="#fff" stroke="#0f4e69" stroke-width="3"/>
<circle cx="404.4" cy="2100.6" r="9.1" fill="#fff" stroke="#0f4e69" stroke-width="3"/>
<circle cx="488.9" cy="2051.5" r="9.1" fill="#fff" stroke="#0f4e69" stroke-width="3"/>
<circle cx="573.4" cy="2066.4" r="9.1" fill="#fff" stroke="#0f4e69" stroke-width="3"/>
<circle cx="657.9" cy="2077.8" r="9.1" fill="#fff" stroke="#0f4e69" stroke-width="3"/>
<circle cx="742.3" cy="2076" r="9.1" fill="#fff" stroke="#0f4e69" stroke-width="3"/>
<circle cx="911.3" cy="2047.2" r="9.1" fill="#fff" stroke="#0f4e69" stroke-width="3"/>
<circle cx="1080.3" cy="2075.3" r="9.1" fill="#fff" stroke="#0f4e69" stroke-width="3"/>
<circle cx="1249.3" cy="2157" r="9.1" fill="#fff" stroke="#0f4e69" stroke-width="3"/>
<circle cx="1418.3" cy="2156.1" r="9.1" fill="#fff" stroke="#0f4e69" stroke-width="3"/>
<path d="M235.4 2147 L319.9 2118 L404.4 2154 L488.9 2023 L573.4 2086 L657.9 2036 L742.3 2072 L911.3 2060 L1080.3 2098.5 L1249.3 2133.2 L1418.3 2145.1" fill="none" stroke="#7ecbb2" stroke-width="2.3" stroke-linejoin="round"/>
<path d="M235.4 2148.8 L319.9 2087 L404.4 2129.7 L488.9 2021.6 L573.4 2029 L657.9 2054.8 L742.3 2019.3 L911.3 2041.3 L1080.3 2059.8 L1249.3 2160.7 L1418.3 2150.6" fill="none" stroke="#12848a" stroke-width="2.9" stroke-linejoin="round"/>
<path d="M235.4 2103.1 L319.9 2040.5 L404.4 2100.6 L488.9 2051.5 L573.4 2066.4 L657.9 2077.8 L742.3 2076 L911.3 2047.2 L1080.3 2075.3 L1249.3 2157 L1418.3 2156.1" fill="none" stroke="#0f4e69" stroke-width="2.9" stroke-linejoin="round"/>
<path d="M235.4 2121.4 L319.9 2120.5 L404.4 2148.8 L488.9 2048.1 L573.4 2090.5 L657.9 2066.6 L742.3 2067.9 L911.3 2061.7 L1080.3 2064.6 L1249.3 2146 L1418.3 2168.9" fill="none" stroke="#000000" stroke-width="3" stroke-linejoin="round"/>
<path d="M319.9 2103.5V2111M319.9 2130V2137.5M310.7 2103.5H329.1M310.7 2137.5H329.1" stroke="#000000" stroke-width="3" fill="none"/>
<path d="M404.4 2135.8V2139.3M404.4 2158.3V2161.8M395.2 2135.8H413.6M395.2 2161.8H413.6" stroke="#000000" stroke-width="3" fill="none"/>
<path d="M488.9 2017.1V2038.6M488.9 2057.6V2079.1M479.7 2017.1H498.1M479.7 2079.1H498.1" stroke="#000000" stroke-width="3" fill="none"/>
<path d="M564.2 2081.5H582.6M564.2 2099.5H582.6" stroke="#000000" stroke-width="3" fill="none"/>
<path d="M648.6 2061.6H667.1M648.6 2071.6H667.1" stroke="#000000" stroke-width="3" fill="none"/>
<path d="M733.1 2062.9H751.5M733.1 2072.9H751.5" stroke="#000000" stroke-width="3" fill="none"/>
<path d="M902.1 2057.7H920.5M902.1 2065.7H920.5" stroke="#000000" stroke-width="3" fill="none"/>
<path d="M1080.3 2042.6V2055.1M1080.3 2074.1V2086.6M1071.1 2042.6H1089.5M1071.1 2086.6H1089.5" stroke="#000000" stroke-width="3" fill="none"/>
<path d="M1249.3 2121V2136.5M1249.3 2155.5V2171M1240.1 2121H1258.5M1240.1 2171H1258.5" stroke="#000000" stroke-width="3" fill="none"/>
<path d="M1418.3 2141.9V2159.4M1418.3 2178.4V2195.9M1409.1 2141.9H1427.5M1409.1 2195.9H1427.5" stroke="#000000" stroke-width="3" fill="none"/>
<circle cx="235.4" cy="2121.4" r="9.3" fill="#000000"/>
<circle cx="319.9" cy="2120.5" r="9.3" fill="#000000"/>
<circle cx="404.4" cy="2148.8" r="9.3" fill="#000000"/>
<circle cx="488.9" cy="2048.1" r="9.3" fill="#000000"/>
<circle cx="573.4" cy="2090.5" r="9.3" fill="#000000"/>
<circle cx="657.9" cy="2066.6" r="9.3" fill="#000000"/>
<circle cx="742.3" cy="2067.9" r="9.3" fill="#000000"/>
<circle cx="911.3" cy="2061.7" r="9.3" fill="#000000"/>
<circle cx="1080.3" cy="2064.6" r="9.3" fill="#000000"/>
<circle cx="1249.3" cy="2146" r="9.3" fill="#000000"/>
<circle cx="1418.3" cy="2168.9" r="9.3" fill="#000000"/>
<path d="M275.7 1842.3H308.7" stroke="#000000" stroke-width="2.8"/>
<circle cx="292.2" cy="1842.3" r="9.3" fill="#000000"/>
<g transform="translate(326,1853.5) scale(0.963,1)"><text x="0" y="0" class="lgc">Negative Control</text></g>
<path d="M275.7 1886.4H308.7" stroke="#0f4e69" stroke-width="2.8"/>
<circle cx="292.2" cy="1886.4" r="9.1" fill="none" stroke="#0f4e69" stroke-width="2.8"/>
<g transform="translate(326.5,1900.6) scale(0.963,1)"><text x="0" y="0" class="lgc">10<tspan dy="-15.5" font-size="24">3</tspan><tspan dy="15.5" letter-spacing="1.5">(PFU/mL</tspan><tspan dx="3">)</tspan></text></g>
<path d="M617.8 1849.2H650.8" stroke="#12848a" stroke-width="2.8"/>
<rect x="624.9" y="1839.8" width="18.8" height="18.8" fill="none" stroke="#12848a" stroke-width="2.8"/>
<g transform="translate(667.5,1862.9) scale(0.963,1)"><text x="0" y="0" class="lgc">10<tspan dy="-15.5" font-size="24">2</tspan><tspan dy="15.5" letter-spacing="1.5">(PFU/mL</tspan><tspan dx="3">)</tspan></text></g>
<path d="M617.8 1895H650.8" stroke="#7ecbb2" stroke-width="2.6"/>
<path d="M634.3 1886.7L643.6 1904.3L625 1904.3Z" fill="none" stroke="#7ecbb2" stroke-width="2.6" stroke-linejoin="miter"/>
<g transform="translate(667.5,1910) scale(0.963,1)"><text x="0" y="0" class="lgc">10<tspan dy="-15.5" font-size="24">1</tspan><tspan dy="15.5" letter-spacing="1.5">(PFU/mL</tspan><tspan dx="3">)</tspan></text></g>
</svg></body></html>
